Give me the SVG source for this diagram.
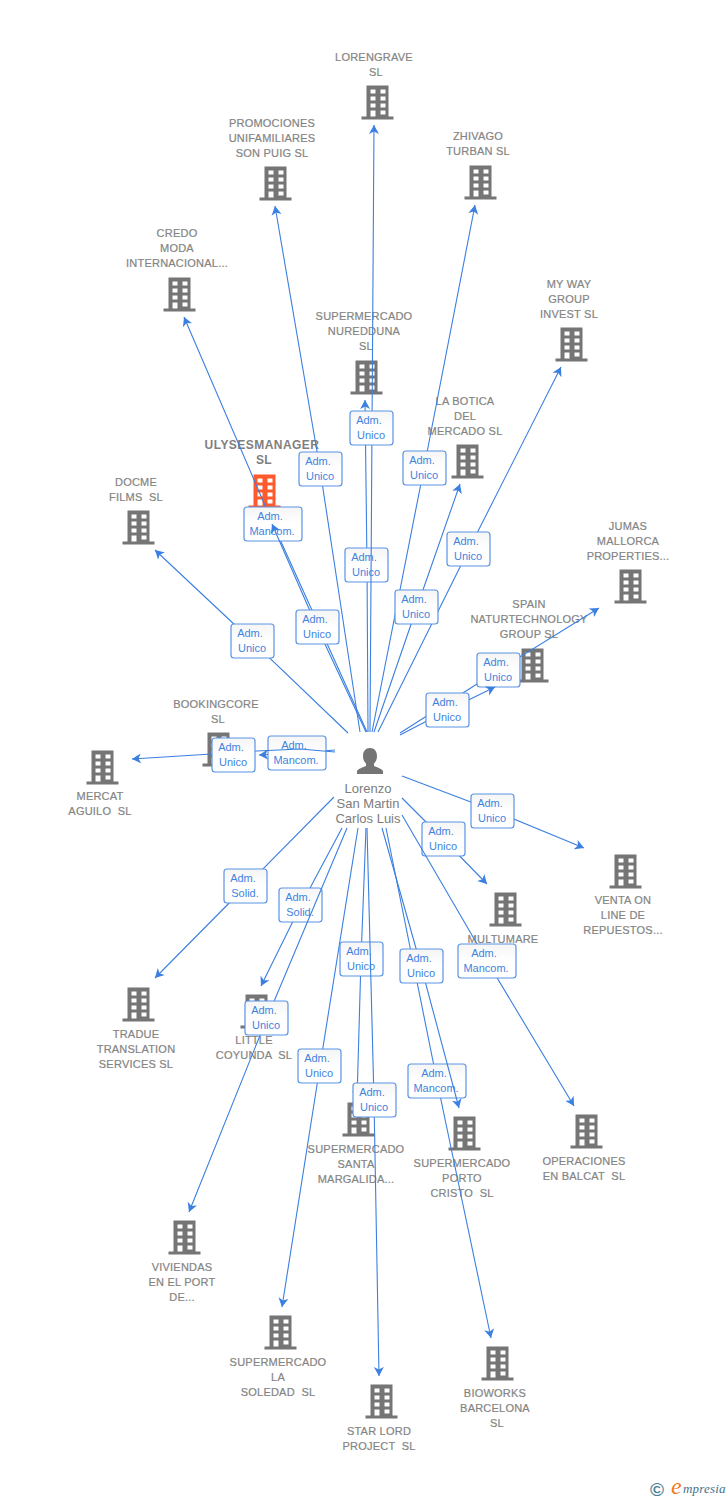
<svg xmlns="http://www.w3.org/2000/svg" width="728" height="1500" viewBox="0 0 728 1500">
<style>
text{font-family:"Liberation Sans",Arial,sans-serif;white-space:pre}
.n{font-size:11px;fill:#848484;stroke:#848484;stroke-width:.2;text-anchor:middle;letter-spacing:.22px}
.f{font-size:12px;font-weight:bold;fill:#7f7f7f;text-anchor:middle;letter-spacing:.45px}
.p{font-size:13px;fill:#7d7d7d;text-anchor:middle}
.e{fill:none;stroke:#3b7fe0;stroke-width:1.1;marker-end:url(#a)}
.b{fill:url(#g);stroke:#5a94e4;stroke-width:1.2}
.t{font-size:11px;fill:#3f83e0;text-anchor:middle}
</style>
<defs>
<linearGradient id="g" x1="0" y1="0" x2="0" y2="1"><stop offset="0" stop-color="#f5f5f5"/><stop offset=".5" stop-color="#fff"/></linearGradient>
<marker id="a" markerUnits="userSpaceOnUse" markerWidth="10" markerHeight="11" refX="9" refY="5.5" orient="auto"><path d="M9,5.5L0,.5L2.5,5.5L0,10.5Z" fill="#3b7fe0"/></marker>
<g id="bld" transform="translate(.5,.5)"><path fill-rule="evenodd" d="M5,0H27V31H32V34H0V31H5ZM9,4v4h5v-4ZM19,4v4h5v-4ZM9,11v4h5v-4ZM19,11v4h5v-4ZM9,18v4h5v-4ZM19,18v4h5v-4ZM9,25v6h5v-6ZM19,25v4h5v-4Z"/></g>
</defs>
<g id="nodes">
<g id="n-lorengrave" fill="#757575"><use href="#bld" x="361" y="85"/><text class="n" x="374" y="61">LORENGRAVE</text><text class="n" x="376" y="76">SL</text></g>
<g id="n-promociones" fill="#757575"><use href="#bld" x="259" y="166"/><text class="n" x="272" y="127">PROMOCIONES</text><text class="n" x="272" y="142">UNIFAMILIARES</text><text class="n" x="272" y="157">SON PUIG SL</text></g>
<g id="n-zhivago" fill="#757575"><use href="#bld" x="464" y="165"/><text class="n" x="478" y="140">ZHIVAGO</text><text class="n" x="478" y="155">TURBAN SL</text></g>
<g id="n-credo" fill="#757575"><use href="#bld" x="163" y="277"/><text class="n" x="177" y="237">CREDO</text><text class="n" x="177" y="252">MODA</text><text class="n" x="177" y="267">INTERNACIONAL...</text></g>
<g id="n-myway" fill="#757575"><use href="#bld" x="555" y="327"/><text class="n" x="569" y="288">MY WAY</text><text class="n" x="569" y="303">GROUP</text><text class="n" x="569" y="318">INVEST SL</text></g>
<g id="n-nuredduna" fill="#757575"><use href="#bld" x="350" y="360"/><text class="n" x="364" y="320">SUPERMERCADO</text><text class="n" x="364" y="335">NUREDDUNA</text><text class="n" x="366" y="350">SL</text></g>
<g id="n-botica" fill="#757575"><use href="#bld" x="451" y="444"/><text class="n" x="465" y="405">LA BOTICA</text><text class="n" x="465" y="420">DEL</text><text class="n" x="465" y="435">MERCADO SL</text></g>
<g id="n-ulyses" fill="#ff5a2c"><use href="#bld" x="248" y="474"/><text class="f" x="262" y="449">ULYSESMANAGER</text><text class="f" x="264" y="464">SL</text></g>
<g id="n-docme" fill="#757575"><use href="#bld" x="122" y="510"/><text class="n" x="136" y="486">DOCME</text><text class="n" x="136" y="501">FILMS  SL</text></g>
<g id="n-jumas" fill="#757575"><use href="#bld" x="614" y="569"/><text class="n" x="628" y="530">JUMAS</text><text class="n" x="628" y="545">MALLORCA</text><text class="n" x="628" y="560">PROPERTIES...</text></g>
<g id="n-spain" fill="#757575"><use href="#bld" x="516" y="648"/><text class="n" x="529" y="608">SPAIN</text><text class="n" x="529" y="623">NATURTECHNOLOGY</text><text class="n" x="529" y="638">GROUP SL</text></g>
<g id="n-bookingcore" fill="#757575"><use href="#bld" x="202" y="732"/><text class="n" x="216" y="708">BOOKINGCORE</text><text class="n" x="218" y="723">SL</text></g>
<g id="n-mercat" fill="#757575"><use href="#bld" x="86" y="750"/><text class="n" x="100" y="800">MERCAT</text><text class="n" x="100" y="815">AGUILO  SL</text></g>
<g id="n-venta" fill="#757575"><use href="#bld" x="609" y="854"/><text class="n" x="623" y="904">VENTA ON</text><text class="n" x="623" y="919">LINE DE</text><text class="n" x="623" y="934">REPUESTOS...</text></g>
<g id="n-multumare" fill="#757575"><use href="#bld" x="489" y="892"/><text class="n" x="503" y="943">MULTUMARE</text></g>
<g id="n-tradue" fill="#757575"><use href="#bld" x="122" y="987"/><text class="n" x="136" y="1038">TRADUE</text><text class="n" x="136" y="1053">TRANSLATION</text><text class="n" x="136" y="1068">SERVICES SL</text></g>
<g id="n-little" fill="#757575"><use href="#bld" x="240" y="994"/><text class="n" x="254" y="1044">LITTLE</text><text class="n" x="254" y="1059">COYUNDA  SL</text></g>
<g id="n-santa" fill="#757575"><use href="#bld" x="342" y="1102"/><text class="n" x="356" y="1153">SUPERMERCADO</text><text class="n" x="356" y="1168">SANTA</text><text class="n" x="356" y="1183">MARGALIDA...</text></g>
<g id="n-porto" fill="#757575"><use href="#bld" x="448" y="1116"/><text class="n" x="462" y="1167">SUPERMERCADO</text><text class="n" x="462" y="1182">PORTO</text><text class="n" x="462" y="1197">CRISTO  SL</text></g>
<g id="n-operaciones" fill="#757575"><use href="#bld" x="570" y="1114"/><text class="n" x="584" y="1165">OPERACIONES</text><text class="n" x="584" y="1180">EN BALCAT  SL</text></g>
<g id="n-viviendas" fill="#757575"><use href="#bld" x="168" y="1220"/><text class="n" x="182" y="1271">VIVIENDAS</text><text class="n" x="182" y="1286">EN EL PORT</text><text class="n" x="182" y="1301">DE...</text></g>
<g id="n-soledad" fill="#757575"><use href="#bld" x="264" y="1315"/><text class="n" x="278" y="1366">SUPERMERCADO</text><text class="n" x="278" y="1381">LA</text><text class="n" x="278" y="1396">SOLEDAD  SL</text></g>
<g id="n-starlord" fill="#757575"><use href="#bld" x="365" y="1384"/><text class="n" x="379" y="1435">STAR LORD</text><text class="n" x="379" y="1450">PROJECT  SL</text></g>
<g id="n-bioworks" fill="#757575"><use href="#bld" x="481" y="1346"/><text class="n" x="495" y="1397">BIOWORKS</text><text class="n" x="495" y="1412">BARCELONA</text><text class="n" x="497" y="1427">SL</text></g>
<g id="n-person"><path fill="#757575" d="M370,748c4.500,0 7,3.500 7,8c0,3 -1,5.500 -3,7.500v2.500c3,1.500 8,2.500 9,5v3h-26v-3c1,-2.500 6,-3.500 9,-5v-2.500c-2,-2 -3,-4.500 -3,-7.500c0,-4.500 2.500,-8 7,-8Z"/><text class="p" x="368" y="793">Lorenzo</text><text class="p" x="368" y="808">San Martin</text><text class="p" x="368" y="823">Carlos Luis</text></g>
</g>
<g id="connectors">
<path class="e" d="M368,732L367,565L365,400"/><rect class="b" x="345" y="548" width="43" height="34" rx="3"/><text class="t" x="364" y="561">Adm.</text><text class="t" x="366" y="576">Unico</text>
<path class="e" d="M370,732L372,428L374,125"/><rect class="b" x="350" y="411" width="43" height="34" rx="3"/><text class="t" x="369" y="424">Adm.</text><text class="t" x="371" y="439">Unico</text>
<path class="e" d="M360,732L320,469L275,206"/><rect class="b" x="299" y="452" width="43" height="34" rx="3"/><text class="t" x="318" y="465">Adm.</text><text class="t" x="320" y="480">Unico</text>
<path class="e" d="M372,732L424,468L475,205"/><rect class="b" x="403" y="451" width="43" height="34" rx="3"/><text class="t" x="422" y="464">Adm.</text><text class="t" x="424" y="479">Unico</text>
<path class="e" d="M367,732L273,524L184,317"/><rect class="b" x="244" y="507" width="58" height="34" rx="3"/><text class="t" x="270" y="520">Adm.</text><text class="t" x="272" y="535">Mancom.</text>
<path class="e" d="M366,732L317,627L272,524"/><rect class="b" x="296" y="610" width="43" height="34" rx="3"/><text class="t" x="315" y="623">Adm.</text><text class="t" x="317" y="638">Unico</text>
<path class="e" d="M378,732L469,549L561,367"/><rect class="b" x="447" y="532" width="43" height="34" rx="3"/><text class="t" x="466" y="545">Adm.</text><text class="t" x="468" y="560">Unico</text>
<path class="e" d="M374,732L417,607L460,484"/><rect class="b" x="395" y="590" width="43" height="34" rx="3"/><text class="t" x="414" y="603">Adm.</text><text class="t" x="416" y="618">Unico</text>
<path class="e" d="M348,733L252,641L155,550"/><rect class="b" x="231" y="624" width="43" height="34" rx="3"/><text class="t" x="250" y="637">Adm.</text><text class="t" x="252" y="652">Unico</text>
<path class="e" d="M400,733L499,670L599,608"/><rect class="b" x="477" y="653" width="43" height="34" rx="3"/><text class="t" x="496" y="666">Adm.</text><text class="t" x="498" y="681">Unico</text>
<path class="e" d="M400,735L448,710L495,687"/><rect class="b" x="426" y="693" width="43" height="34" rx="3"/><text class="t" x="445" y="706">Adm.</text><text class="t" x="447" y="721">Unico</text>
<path class="e" d="M335,750L297,753L259,755"/><rect class="b" x="268" y="736" width="58" height="34" rx="3"/><text class="t" x="294" y="749">Adm.</text><text class="t" x="296" y="764">Mancom.</text>
<path class="e" d="M335,752L300,749L257,751L212,754L132,759"/><rect class="b" x="212" y="738" width="43" height="34" rx="3"/><text class="t" x="231" y="751">Adm.</text><text class="t" x="233" y="766">Unico</text>
<path class="e" d="M402,776L492,810L584,848"/><rect class="b" x="471" y="794" width="43" height="34" rx="3"/><text class="t" x="490" y="807">Adm.</text><text class="t" x="492" y="822">Unico</text>
<path class="e" d="M402,798L443,839L487,884"/><rect class="b" x="422" y="822" width="43" height="34" rx="3"/><text class="t" x="441" y="835">Adm.</text><text class="t" x="443" y="850">Unico</text>
<path class="e" d="M402,815L487,961L574,1106"/><rect class="b" x="458" y="944" width="58" height="34" rx="3"/><text class="t" x="484" y="957">Adm.</text><text class="t" x="486" y="972">Mancom.</text>
<path class="e" d="M334,797L246,886L155,978"/><rect class="b" x="224" y="869" width="43" height="34" rx="3"/><text class="t" x="243" y="882">Adm.</text><text class="t" x="245" y="897">Solid.</text>
<path class="e" d="M342,828L301,905L261,986"/><rect class="b" x="279" y="888" width="43" height="34" rx="3"/><text class="t" x="298" y="901">Adm.</text><text class="t" x="300" y="916">Solid.</text>
<path class="e" d="M347,828L267,1018L189,1212"/><rect class="b" x="245" y="1001" width="43" height="34" rx="3"/><text class="t" x="264" y="1014">Adm.</text><text class="t" x="266" y="1029">Unico</text>
<path class="e" d="M358,828L320,1066L282,1307"/><rect class="b" x="298" y="1049" width="43" height="34" rx="3"/><text class="t" x="317" y="1062">Adm.</text><text class="t" x="319" y="1077">Unico</text>
<path class="e" d="M366,828L361,959L357,1100"/><rect class="b" x="340" y="942" width="43" height="34" rx="3"/><text class="t" x="359" y="955">Adm.</text><text class="t" x="361" y="970">Unico</text>
<path class="e" d="M367,828L374,1100L379,1376"/><rect class="b" x="353" y="1083" width="43" height="34" rx="3"/><text class="t" x="372" y="1096">Adm.</text><text class="t" x="374" y="1111">Unico</text>
<path class="e" d="M386,828L437,1081L491,1338"/><rect class="b" x="408" y="1064" width="58" height="34" rx="3"/><text class="t" x="434" y="1077">Adm.</text><text class="t" x="436" y="1092">Mancom.</text>
<path class="e" d="M382,828L421,966L459,1108"/><rect class="b" x="400" y="949" width="43" height="34" rx="3"/><text class="t" x="419" y="962">Adm.</text><text class="t" x="421" y="977">Unico</text>
</g>
<g id="logo"><text x="650" y="1496" font-size="19" font-weight="bold" fill="#4a8296">©</text><text x="671" y="1494" font-size="24" font-style="italic" fill="#f07c1e" style="font-family:'Liberation Serif',serif">e</text><text x="683" y="1493" font-size="13" font-style="italic" fill="#3f7186" letter-spacing=".2" style="font-family:'Liberation Serif',serif">mpresia</text></g>
</svg>
